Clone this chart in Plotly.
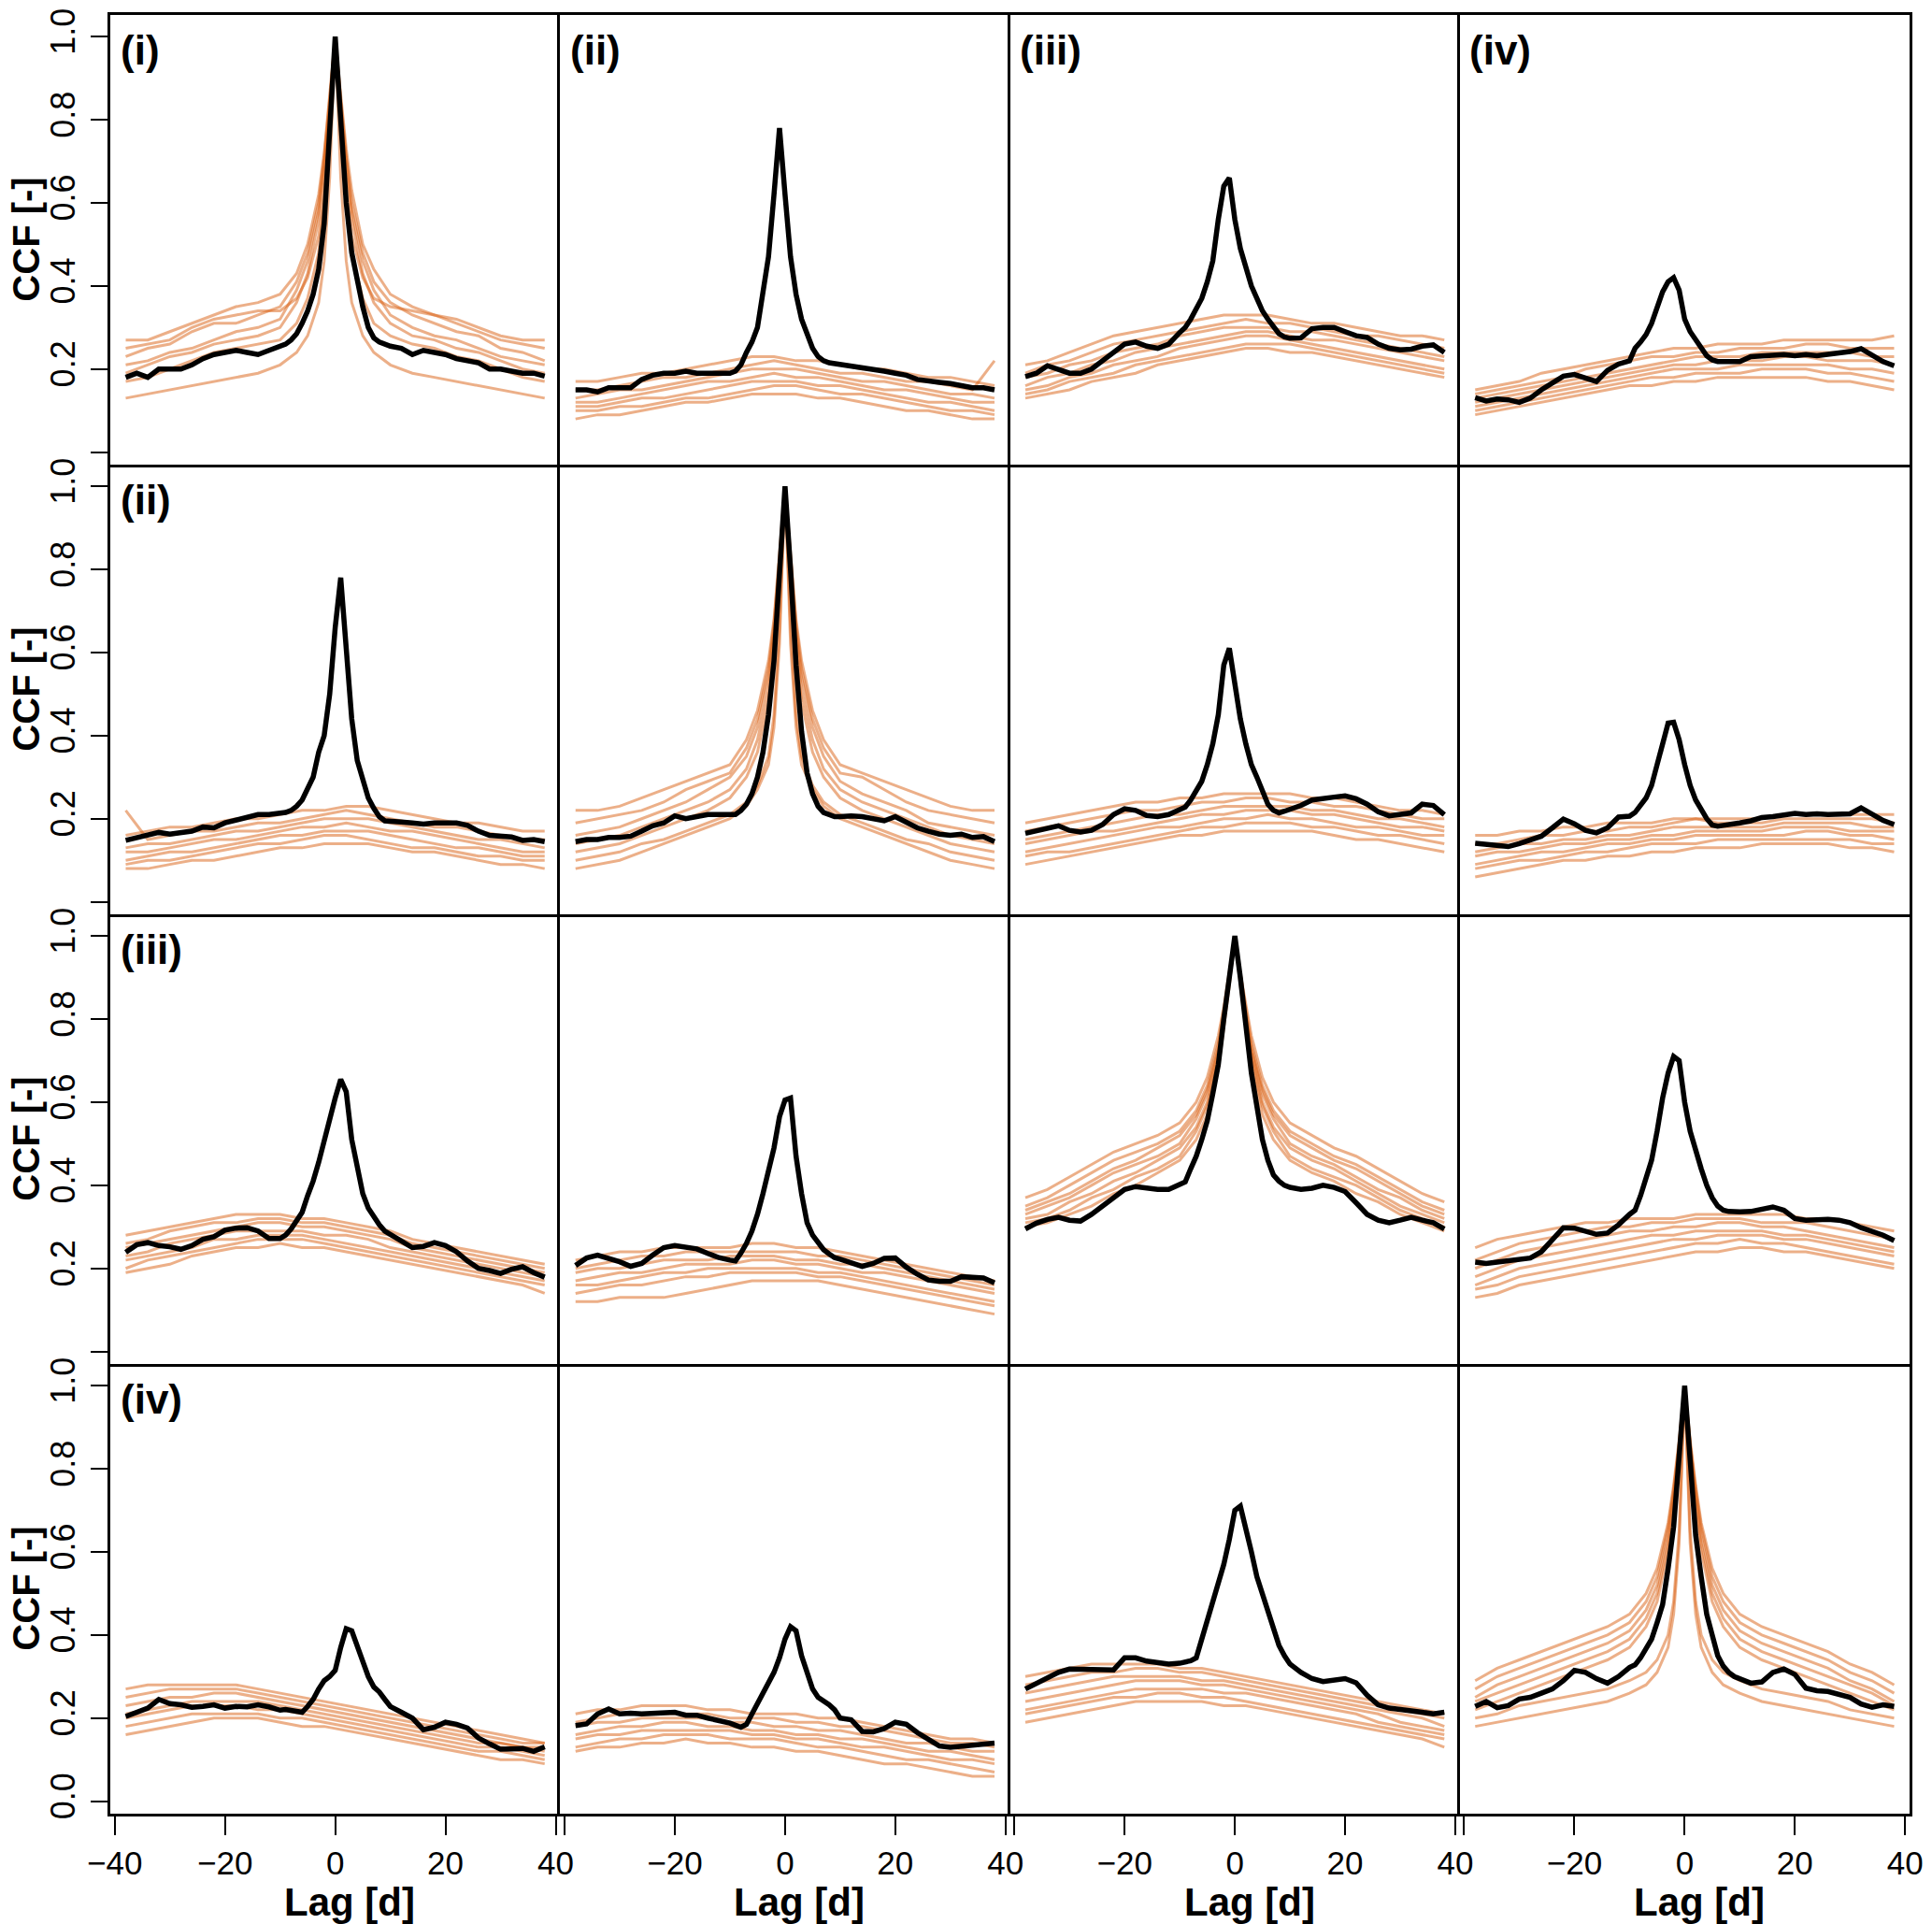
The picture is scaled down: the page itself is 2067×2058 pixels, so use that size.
import plotly.graph_objects as go
from plotly.subplots import make_subplots

# lags (days)
LAG_BLACK = [-38, -36, -34, -32, -30, -28, -26, -24, -22, -20, -18, -16, -14, -12,
             -10, -9, -8, -7, -6, -5, -4, -3, -2, -1, 0, 1, 2, 3, 4, 5, 6, 7, 8, 9, 10,
             12, 14, 16, 18, 20, 22, 24, 26, 28, 30, 32, 34, 36, 38]
LAG_PEAK = [-38, -34, -30, -26, -22, -18, -14, -10, -7, -5, -3, -2, -1, 0,
            1, 2, 3, 5, 7, 10, 14, 18, 22, 26, 30, 34, 38]
LAG_COARSE = [-38, -34, -30, -26, -22, -18, -14, -10, -6, -2,
              2, 6, 10, 14, 18, 22, 26, 30, 34, 38]

ROW_LABELS = ["(i)", "(ii)", "(iii)", "(iv)"]
COL_LABELS = ["(i)", "(ii)", "(iii)", "(iv)"]

# observed CCF (black), row r / column c
B11 = [0.18, 0.19, 0.18, 0.20, 0.20, 0.20, 0.21, 0.225, 0.235, 0.24, 0.245, 0.24, 0.235, 0.245,
       0.255, 0.26, 0.27, 0.285, 0.31, 0.34, 0.38, 0.44, 0.55, 0.78, 1.0, 0.80, 0.60, 0.48, 0.41, 0.35, 0.30, 0.275, 0.265, 0.26, 0.255,
       0.25, 0.235, 0.245, 0.24, 0.235, 0.225, 0.22, 0.215, 0.20, 0.20, 0.195, 0.19, 0.19, 0.183]
B12 = [0.15, 0.15, 0.145, 0.155, 0.155, 0.155, 0.175, 0.185, 0.19, 0.19, 0.195, 0.19, 0.19, 0.19,
       0.19, 0.195, 0.21, 0.24, 0.265, 0.30, 0.38, 0.47, 0.62, 0.78, 0.62, 0.47, 0.38, 0.32, 0.285, 0.25, 0.23, 0.22, 0.215, 0.213, 0.212,
       0.21, 0.205, 0.20, 0.195, 0.19, 0.185, 0.175, 0.17, 0.168, 0.165, 0.16, 0.155, 0.155, 0.15]
B13 = [0.182, 0.19, 0.208, 0.198, 0.19, 0.19, 0.20, 0.22, 0.24, 0.26, 0.265, 0.255, 0.25, 0.26,
       0.288, 0.30, 0.32, 0.345, 0.37, 0.41, 0.46, 0.56, 0.64, 0.66, 0.56, 0.49, 0.44, 0.40, 0.37, 0.34, 0.32, 0.30, 0.285, 0.277, 0.274,
       0.275, 0.297, 0.30, 0.30, 0.29, 0.28, 0.276, 0.26, 0.25, 0.246, 0.248, 0.255, 0.258, 0.24]
B14 = [0.131, 0.123, 0.128, 0.126, 0.12, 0.13, 0.15, 0.168, 0.183, 0.187, 0.178, 0.17, 0.197, 0.212,
       0.22, 0.25, 0.265, 0.283, 0.31, 0.35, 0.386, 0.41, 0.42, 0.39, 0.32, 0.29, 0.27, 0.25, 0.232, 0.222, 0.218, 0.218, 0.219, 0.218, 0.218,
       0.23, 0.232, 0.234, 0.235, 0.232, 0.235, 0.232, 0.235, 0.24, 0.242, 0.249, 0.232, 0.218, 0.208]
B21 = [0.148, 0.155, 0.163, 0.167, 0.163, 0.167, 0.17, 0.18, 0.178, 0.19, 0.197, 0.203, 0.21, 0.21,
       0.212, 0.215, 0.22, 0.23, 0.245, 0.27, 0.30, 0.36, 0.40, 0.50, 0.66, 0.78, 0.60, 0.44, 0.34, 0.29, 0.25, 0.225, 0.205, 0.195, 0.193,
       0.192, 0.19, 0.187, 0.19, 0.19, 0.19, 0.184, 0.17, 0.16, 0.158, 0.156, 0.148, 0.15, 0.145]
B22 = [0.145, 0.15, 0.15, 0.155, 0.155, 0.158, 0.17, 0.183, 0.19, 0.207, 0.20, 0.205, 0.21, 0.21,
       0.21, 0.21, 0.22, 0.235, 0.26, 0.30, 0.36, 0.45, 0.58, 0.80, 1.0, 0.80, 0.57, 0.41, 0.31, 0.26, 0.23, 0.215, 0.21, 0.205, 0.205,
       0.207, 0.205, 0.20, 0.195, 0.205, 0.19, 0.178, 0.17, 0.163, 0.16, 0.163, 0.155, 0.157, 0.145]
B23 = [0.165, 0.172, 0.179, 0.183, 0.172, 0.168, 0.172, 0.186, 0.21, 0.224, 0.22, 0.208, 0.205, 0.21,
       0.222, 0.228, 0.245, 0.268, 0.29, 0.33, 0.38, 0.45, 0.57, 0.61, 0.53, 0.44, 0.38, 0.33, 0.30, 0.265, 0.235, 0.22, 0.214, 0.218, 0.222,
       0.232, 0.245, 0.25, 0.252, 0.255, 0.248, 0.235, 0.217, 0.207, 0.21, 0.214, 0.235, 0.232, 0.21]
B24 = [0.141, 0.138, 0.135, 0.133, 0.14, 0.148, 0.158, 0.178, 0.199, 0.188, 0.172, 0.166, 0.178, 0.204,
       0.206, 0.215, 0.235, 0.25, 0.28, 0.33, 0.39, 0.43, 0.432, 0.39, 0.33, 0.28, 0.245, 0.22, 0.20, 0.185, 0.182, 0.184, 0.185, 0.187, 0.19,
       0.195, 0.203, 0.205, 0.21, 0.213, 0.21, 0.212, 0.21, 0.212, 0.212, 0.226, 0.21, 0.196, 0.186]
B31 = [0.239, 0.257, 0.262, 0.255, 0.252, 0.246, 0.255, 0.27, 0.276, 0.292, 0.297, 0.298, 0.29, 0.272,
       0.272, 0.28, 0.295, 0.315, 0.335, 0.375, 0.41, 0.455, 0.51, 0.555, 0.61, 0.655, 0.625, 0.51, 0.44, 0.38, 0.345, 0.323, 0.305, 0.29, 0.282,
       0.265, 0.25, 0.253, 0.262, 0.255, 0.24, 0.218, 0.20, 0.195, 0.188, 0.198, 0.204, 0.19, 0.179]
B32 = [0.207, 0.225, 0.232, 0.225, 0.216, 0.205, 0.212, 0.232, 0.25, 0.255, 0.252, 0.247, 0.236, 0.226,
       0.22, 0.218, 0.237, 0.26, 0.29, 0.33, 0.38, 0.43, 0.49, 0.565, 0.605, 0.61, 0.47, 0.38, 0.31, 0.28, 0.26, 0.245, 0.235, 0.226, 0.222,
       0.215, 0.205, 0.212, 0.224, 0.225, 0.203, 0.186, 0.172, 0.169, 0.169, 0.18, 0.18, 0.177, 0.165]
B33 = [0.295, 0.309, 0.318, 0.323, 0.316, 0.314, 0.33, 0.35, 0.37, 0.39, 0.397, 0.393, 0.39, 0.39,
       0.40, 0.408, 0.44, 0.47, 0.51, 0.555, 0.62, 0.69, 0.80, 0.90, 1.0, 0.90, 0.78, 0.67, 0.59, 0.51, 0.46, 0.425, 0.41, 0.40, 0.395,
       0.39, 0.393, 0.40, 0.395, 0.385, 0.358, 0.33, 0.316, 0.31, 0.316, 0.323, 0.316, 0.31, 0.295]
B34 = [0.215, 0.212, 0.215, 0.218, 0.221, 0.225, 0.24, 0.27, 0.298, 0.297, 0.288, 0.282, 0.285, 0.305,
       0.33, 0.34, 0.375, 0.42, 0.46, 0.53, 0.61, 0.67, 0.71, 0.70, 0.60, 0.53, 0.48, 0.44, 0.40, 0.37, 0.35, 0.34, 0.337, 0.336, 0.336,
       0.337, 0.342, 0.348, 0.34, 0.32, 0.316, 0.318, 0.318, 0.316, 0.31, 0.298, 0.29, 0.28, 0.267]
B41 = [0.204, 0.214, 0.224, 0.245, 0.235, 0.232, 0.226, 0.228, 0.232, 0.224, 0.228, 0.227, 0.232, 0.227,
       0.219, 0.221, 0.219, 0.217, 0.214, 0.228, 0.245, 0.27, 0.29, 0.30, 0.315, 0.37, 0.415, 0.41, 0.375, 0.34, 0.30, 0.275, 0.263, 0.245, 0.228,
       0.214, 0.20, 0.172, 0.178, 0.19, 0.185, 0.176, 0.152, 0.138, 0.125, 0.126, 0.127, 0.12, 0.131]
B42 = [0.182, 0.186, 0.21, 0.222, 0.21, 0.212, 0.21, 0.212, 0.214, 0.214, 0.207, 0.207, 0.20, 0.195,
       0.188, 0.183, 0.178, 0.185, 0.21, 0.232, 0.255, 0.28, 0.31, 0.345, 0.39, 0.42, 0.41, 0.35, 0.305, 0.27, 0.25, 0.242, 0.232, 0.22, 0.20,
       0.196, 0.168, 0.167, 0.175, 0.19, 0.185, 0.165, 0.148, 0.133, 0.13, 0.132, 0.134, 0.137, 0.14]
B43 = [0.27, 0.284, 0.298, 0.31, 0.318, 0.317, 0.318, 0.315, 0.316, 0.345, 0.345, 0.337, 0.333, 0.33,
       0.332, 0.335, 0.338, 0.345, 0.39, 0.43, 0.475, 0.53, 0.57, 0.63, 0.70, 0.71, 0.66, 0.60, 0.54, 0.50, 0.46, 0.415, 0.375, 0.35, 0.33,
       0.31, 0.295, 0.288, 0.29, 0.295, 0.285, 0.255, 0.232, 0.224, 0.221, 0.219, 0.214, 0.21, 0.214]
B44 = [0.228, 0.24, 0.225, 0.23, 0.246, 0.25, 0.26, 0.27, 0.29, 0.315, 0.31, 0.295, 0.284, 0.30,
       0.322, 0.328, 0.345, 0.365, 0.39, 0.43, 0.473, 0.56, 0.66, 0.83, 1.0, 0.82, 0.64, 0.54, 0.45, 0.40, 0.35, 0.325, 0.31, 0.30, 0.295,
       0.284, 0.287, 0.31, 0.318, 0.305, 0.272, 0.266, 0.264, 0.258, 0.25, 0.234, 0.226, 0.232, 0.228]

# simulated CCFs (orange); diagonal panels on LAG_PEAK, others on LAG_COARSE
O11 = [
    [.27, .27, .29, .31, .33, .35, .36, .38, .43, .50, .62, .72, .86, 1, .86, .73, .63, .50, .44, .38, .35, .33, .32, .30, .28, .27, .27],
    [.23, .25, .26, .29, .31, .31, .33, .35, .41, .48, .60, .71, .85, 1, .85, .71, .60, .48, .41, .36, .33, .31, .29, .28, .25, .24, .22],
    [.21, .22, .24, .25, .27, .29, .30, .32, .39, .46, .58, .69, .84, 1, .84, .70, .58, .46, .39, .33, .30, .28, .27, .25, .23, .22, .21],
    [.19, .21, .23, .24, .26, .27, .28, .30, .36, .43, .56, .67, .83, 1, .83, .67, .56, .43, .36, .31, .28, .27, .25, .24, .22, .20, .19],
    [.25, .26, .27, .30, .32, .33, .34, .34, .37, .42, .52, .62, .78, 1, .78, .62, .52, .42, .37, .35, .34, .33, .31, .29, .27, .26, .25],
    [.17, .18, .20, .22, .24, .25, .26, .27, .31, .37, .48, .60, .78, 1, .78, .60, .48, .37, .31, .28, .26, .25, .23, .22, .20, .18, .17],
    [.13, .14, .15, .16, .17, .18, .19, .21, .24, .28, .36, .46, .66, 1, .66, .46, .36, .28, .24, .21, .19, .18, .17, .16, .15, .14, .13],
]
O12 = [
    [.17, .17, .18, .19, .19, .20, .21, .22, .23, .23, .22, .22, .21, .20, .20, .19, .18, .18, .17, .16],
    [.15, .15, .16, .17, .18, .18, .19, .20, .21, .22, .21, .20, .19, .19, .18, .17, .17, .16, .15, .22],
    [.13, .14, .15, .15, .16, .17, .18, .19, .20, .20, .20, .19, .18, .17, .17, .16, .15, .14, .14, .13],
    [.12, .12, .13, .14, .15, .16, .17, .17, .18, .19, .18, .18, .17, .16, .15, .15, .14, .13, .12, .12],
    [.11, .11, .12, .13, .13, .14, .15, .16, .17, .17, .17, .16, .16, .15, .14, .13, .12, .12, .11, .10],
    [.10, .10, .11, .11, .12, .13, .13, .14, .15, .16, .16, .15, .14, .14, .13, .12, .11, .10, .10, .09],
    [.08, .09, .09, .10, .11, .12, .12, .13, .14, .14, .14, .13, .13, .12, .11, .10, .10, .09, .08, .08],
]
O13 = [
    [.21, .22, .24, .26, .28, .29, .30, .31, .32, .33, .33, .33, .32, .31, .31, .30, .29, .28, .28, .27],
    [.19, .21, .22, .24, .26, .27, .28, .29, .30, .31, .32, .31, .31, .30, .29, .28, .28, .27, .26, .25],
    [.18, .19, .21, .22, .24, .25, .26, .28, .29, .30, .30, .30, .29, .29, .28, .27, .26, .25, .24, .23],
    [.16, .18, .19, .21, .22, .24, .25, .26, .27, .28, .29, .29, .28, .27, .27, .26, .25, .24, .23, .22],
    [.15, .16, .18, .19, .21, .22, .23, .25, .26, .27, .28, .28, .27, .26, .25, .24, .23, .22, .21, .20],
    [.14, .15, .17, .18, .19, .21, .22, .23, .24, .25, .26, .26, .26, .25, .24, .23, .22, .21, .20, .19],
    [.13, .14, .15, .17, .18, .19, .21, .22, .23, .24, .25, .25, .24, .24, .23, .22, .21, .20, .19, .18],
]
O14 = [
    [.15, .16, .17, .19, .20, .21, .22, .23, .24, .25, .25, .26, .26, .26, .27, .27, .27, .27, .27, .28],
    [.14, .15, .16, .17, .18, .20, .21, .22, .23, .23, .24, .24, .25, .25, .25, .26, .26, .25, .25, .25],
    [.13, .14, .15, .16, .17, .18, .19, .20, .21, .22, .23, .23, .23, .24, .24, .24, .24, .24, .23, .23],
    [.12, .13, .14, .15, .16, .17, .18, .19, .20, .21, .21, .22, .22, .22, .23, .23, .22, .22, .22, .21],
    [.11, .12, .13, .14, .15, .16, .17, .18, .19, .20, .20, .20, .21, .21, .21, .21, .21, .20, .20, .19],
    [.10, .11, .12, .13, .14, .15, .16, .17, .18, .18, .19, .19, .19, .20, .20, .20, .19, .19, .18, .17],
    [.09, .10, .11, .12, .13, .14, .15, .16, .16, .17, .17, .18, .18, .18, .18, .18, .17, .17, .16, .15],
]
O21 = [
    [.16, .17, .18, .18, .19, .20, .20, .21, .22, .22, .23, .23, .22, .21, .20, .19, .19, .18, .17, .17],
    [.22, .15, .16, .17, .17, .18, .19, .19, .20, .21, .22, .21, .20, .19, .18, .18, .17, .16, .15, .15],
    [.13, .14, .14, .15, .16, .17, .17, .18, .19, .20, .20, .20, .19, .18, .17, .16, .15, .15, .14, .13],
    [.12, .12, .13, .14, .15, .15, .16, .17, .18, .18, .19, .18, .17, .17, .16, .15, .14, .13, .12, .12],
    [.10, .11, .12, .12, .13, .14, .15, .16, .16, .17, .17, .17, .16, .15, .14, .13, .13, .12, .11, .11],
    [.09, .10, .10, .11, .12, .13, .14, .14, .15, .16, .16, .15, .14, .13, .13, .12, .11, .11, .10, .10],
    [.08, .08, .09, .10, .10, .11, .12, .13, .13, .14, .14, .14, .13, .12, .12, .11, .10, .09, .09, .08],
]
O22 = [
    [.22, .22, .23, .25, .27, .29, .31, .33, .39, .46, .58, .68, .84, 1, .84, .68, .58, .46, .39, .33, .31, .29, .27, .25, .23, .22, .22],
    [.19, .20, .21, .22, .24, .27, .29, .31, .37, .44, .56, .67, .83, 1, .83, .67, .56, .44, .37, .31, .30, .27, .24, .22, .21, .20, .19],
    [.16, .17, .18, .20, .22, .24, .27, .30, .35, .42, .54, .65, .82, 1, .82, .65, .54, .42, .35, .29, .26, .24, .22, .19, .18, .17, .16],
    [.14, .15, .16, .18, .20, .22, .24, .27, .32, .39, .51, .63, .81, 1, .81, .63, .51, .39, .32, .27, .24, .22, .20, .18, .16, .15, .14],
    [.12, .13, .14, .16, .18, .20, .22, .25, .30, .36, .48, .60, .79, 1, .79, .60, .48, .36, .30, .25, .22, .20, .18, .16, .14, .13, .12],
    [.10, .11, .12, .14, .15, .17, .19, .21, .24, .28, .35, .45, .66, 1, .66, .45, .35, .28, .24, .21, .19, .17, .15, .14, .12, .11, .10],
    [.08, .09, .10, .12, .14, .16, .18, .20, .23, .27, .33, .42, .62, 1, .62, .42, .33, .27, .23, .20, .18, .16, .14, .12, .10, .09, .08],
]
O23 = [
    [.19, .20, .21, .22, .23, .24, .24, .25, .25, .26, .26, .26, .26, .25, .25, .24, .23, .22, .22, .21],
    [.17, .18, .19, .20, .21, .22, .22, .23, .24, .24, .25, .25, .24, .24, .23, .23, .22, .21, .20, .20],
    [.15, .16, .17, .18, .19, .20, .21, .21, .22, .23, .23, .23, .23, .22, .22, .21, .20, .20, .19, .18],
    [.14, .15, .16, .17, .17, .18, .19, .20, .21, .21, .22, .22, .22, .21, .21, .20, .19, .18, .18, .17],
    [.12, .13, .14, .15, .16, .17, .18, .18, .19, .20, .20, .21, .20, .20, .19, .18, .18, .17, .16, .16],
    [.11, .12, .12, .13, .14, .15, .16, .17, .18, .18, .19, .19, .19, .18, .18, .17, .16, .16, .15, .14],
    [.09, .10, .11, .12, .13, .14, .15, .16, .16, .17, .17, .17, .17, .17, .16, .15, .15, .14, .13, .12],
]
O24 = [
    [.16, .16, .17, .17, .18, .18, .19, .19, .19, .20, .20, .20, .20, .20, .21, .21, .21, .21, .21, .21],
    [.14, .14, .15, .16, .16, .17, .17, .18, .18, .19, .20, .19, .19, .19, .20, .20, .20, .20, .20, .19],
    [.12, .13, .14, .14, .15, .15, .16, .16, .17, .18, .18, .18, .18, .18, .19, .19, .19, .19, .18, .18],
    [.11, .12, .12, .13, .14, .14, .15, .15, .16, .16, .17, .17, .17, .17, .18, .18, .18, .17, .17, .17],
    [.09, .10, .11, .12, .12, .13, .14, .14, .15, .15, .16, .16, .16, .16, .16, .17, .17, .16, .16, .15],
    [.08, .09, .10, .10, .11, .12, .12, .13, .14, .14, .14, .15, .15, .15, .15, .15, .15, .15, .14, .14],
    [.06, .07, .08, .09, .10, .10, .11, .11, .12, .12, .13, .13, .13, .14, .14, .14, .14, .13, .13, .12],
]
O31 = [
    [.28, .29, .30, .31, .32, .33, .33, .33, .32, .32, .31, .30, .29, .27, .26, .25, .24, .23, .22, .21],
    [.26, .27, .29, .30, .31, .31, .32, .32, .31, .31, .30, .29, .28, .26, .25, .24, .23, .22, .21, .20],
    [.25, .26, .27, .28, .29, .30, .31, .31, .30, .30, .29, .28, .27, .25, .24, .23, .22, .21, .20, .19],
    [.23, .24, .26, .27, .28, .29, .29, .29, .29, .28, .28, .27, .25, .24, .23, .22, .21, .20, .19, .18],
    [.22, .23, .24, .25, .27, .27, .28, .28, .28, .27, .26, .25, .24, .23, .22, .21, .20, .19, .18, .17],
    [.20, .22, .23, .24, .25, .26, .27, .27, .27, .26, .25, .24, .23, .22, .21, .20, .19, .18, .17, .16],
    [.19, .20, .21, .23, .24, .25, .25, .26, .25, .25, .24, .23, .22, .21, .20, .19, .18, .17, .16, .14],
]
O32 = [
    [.22, .23, .24, .24, .25, .25, .25, .25, .26, .26, .25, .25, .24, .23, .22, .21, .20, .19, .18, .17],
    [.20, .21, .22, .23, .23, .24, .24, .24, .24, .24, .24, .23, .23, .22, .21, .20, .19, .18, .17, .16],
    [.19, .20, .20, .21, .22, .22, .22, .23, .23, .23, .22, .22, .21, .21, .20, .19, .18, .17, .16, .15],
    [.17, .18, .19, .19, .20, .21, .21, .21, .22, .22, .21, .21, .20, .19, .19, .18, .17, .16, .15, .14],
    [.16, .16, .17, .18, .19, .19, .20, .20, .20, .20, .20, .19, .19, .18, .17, .16, .15, .14, .13, .12],
    [.14, .15, .16, .16, .17, .18, .18, .19, .19, .19, .19, .18, .18, .17, .16, .15, .14, .13, .12, .11],
    [.12, .12, .13, .13, .13, .14, .15, .16, .17, .17, .17, .17, .16, .15, .14, .13, .12, .11, .10, .09],
]
O33 = [
    [.37, .39, .42, .45, .48, .50, .52, .55, .60, .66, .76, .83, .91, 1, .91, .83, .76, .66, .60, .55, .52, .49, .47, .44, .41, .38, .36],
    [.35, .37, .40, .43, .46, .48, .50, .53, .58, .64, .74, .82, .91, 1, .91, .82, .74, .64, .58, .53, .50, .47, .45, .42, .39, .36, .34],
    [.34, .36, .38, .41, .44, .46, .49, .52, .57, .63, .73, .81, .90, 1, .90, .81, .73, .63, .57, .52, .49, .46, .44, .41, .38, .35, .33],
    [.33, .35, .37, .40, .43, .45, .47, .50, .56, .62, .72, .80, .90, 1, .90, .80, .72, .62, .56, .50, .47, .45, .42, .39, .37, .34, .32],
    [.32, .33, .36, .38, .41, .43, .46, .49, .54, .60, .71, .80, .89, 1, .89, .80, .71, .60, .54, .49, .46, .44, .41, .38, .35, .33, .31],
    [.31, .32, .34, .37, .39, .42, .44, .47, .53, .59, .70, .79, .89, 1, .89, .79, .70, .59, .53, .47, .44, .42, .40, .37, .34, .32, .30],
    [.30, .31, .33, .35, .38, .40, .43, .46, .51, .57, .68, .78, .88, 1, .88, .78, .68, .57, .51, .46, .43, .41, .38, .36, .33, .31, .29],
]
O34 = [
    [.25, .27, .28, .29, .30, .31, .31, .32, .32, .32, .33, .33, .33, .33, .33, .32, .32, .31, .30, .29],
    [.22, .24, .26, .27, .28, .29, .30, .30, .31, .31, .32, .32, .32, .31, .31, .31, .30, .29, .28, .27],
    [.20, .22, .24, .25, .26, .27, .28, .29, .29, .30, .30, .31, .31, .30, .30, .29, .28, .27, .26, .25],
    [.18, .20, .22, .23, .24, .25, .26, .27, .28, .28, .29, .29, .29, .29, .28, .28, .27, .26, .25, .24],
    [.16, .18, .20, .21, .22, .23, .24, .25, .26, .27, .27, .28, .28, .28, .27, .27, .26, .25, .24, .23],
    [.15, .16, .18, .19, .20, .21, .22, .23, .24, .25, .26, .26, .27, .26, .26, .25, .24, .23, .22, .21],
    [.13, .14, .16, .17, .18, .19, .20, .21, .22, .23, .24, .24, .25, .25, .24, .24, .23, .22, .21, .20],
]
O41 = [
    [.27, .28, .28, .28, .28, .28, .27, .26, .25, .24, .23, .22, .21, .20, .19, .18, .17, .16, .15, .14],
    [.25, .26, .27, .27, .27, .27, .26, .25, .24, .23, .22, .21, .20, .19, .18, .17, .16, .15, .14, .14],
    [.23, .24, .25, .25, .26, .26, .25, .24, .23, .22, .21, .20, .19, .18, .17, .16, .15, .14, .13, .13],
    [.21, .22, .23, .24, .24, .24, .24, .23, .22, .21, .20, .19, .18, .17, .16, .15, .14, .14, .13, .12],
    [.20, .21, .22, .23, .23, .23, .22, .22, .21, .20, .19, .18, .17, .16, .15, .14, .13, .13, .12, .11],
    [.18, .19, .20, .21, .21, .21, .21, .20, .20, .19, .18, .17, .16, .15, .14, .13, .12, .12, .11, .10],
    [.16, .17, .18, .19, .20, .20, .20, .19, .18, .18, .17, .16, .15, .14, .13, .12, .11, .10, .10, .09],
]
O42 = [
    [.21, .22, .22, .23, .23, .23, .22, .22, .21, .21, .21, .20, .20, .19, .18, .17, .16, .15, .15, .14],
    [.19, .20, .21, .21, .21, .21, .21, .20, .20, .20, .19, .19, .18, .18, .17, .16, .15, .14, .14, .13],
    [.18, .19, .19, .20, .20, .20, .20, .19, .19, .18, .18, .17, .17, .16, .15, .14, .14, .13, .12, .12],
    [.16, .17, .18, .18, .19, .19, .18, .18, .17, .17, .16, .16, .15, .15, .14, .13, .12, .12, .11, .10],
    [.15, .16, .16, .17, .17, .17, .17, .17, .16, .16, .15, .15, .14, .13, .13, .12, .11, .10, .10, .09],
    [.13, .14, .15, .15, .16, .16, .16, .15, .15, .15, .14, .13, .13, .12, .11, .10, .10, .09, .08, .07],
    [.12, .13, .13, .14, .14, .15, .14, .14, .13, .13, .12, .12, .11, .10, .09, .09, .08, .07, .06, .06],
]
O43 = [
    [.30, .31, .32, .33, .33, .33, .33, .32, .32, .31, .30, .29, .28, .27, .26, .25, .24, .23, .22, .21],
    [.28, .29, .30, .31, .31, .32, .32, .31, .31, .30, .29, .28, .27, .26, .25, .24, .23, .22, .21, .20],
    [.26, .27, .28, .29, .30, .30, .30, .30, .29, .29, .28, .27, .26, .25, .24, .23, .22, .21, .20, .18],
    [.24, .25, .26, .27, .28, .29, .29, .29, .28, .28, .27, .26, .25, .24, .23, .22, .21, .19, .18, .17],
    [.22, .23, .24, .25, .26, .27, .27, .27, .27, .26, .26, .25, .24, .23, .22, .21, .19, .18, .17, .16],
    [.21, .22, .23, .24, .25, .25, .26, .26, .25, .25, .24, .23, .22, .21, .20, .19, .18, .17, .16, .15],
    [.19, .20, .21, .22, .23, .24, .24, .24, .24, .23, .23, .22, .21, .20, .19, .18, .17, .16, .15, .13],
]
O44 = [
    [.29, .32, .34, .36, .38, .40, .42, .45, .50, .56, .67, .76, .87, 1, .87, .76, .67, .56, .50, .45, .42, .40, .38, .36, .33, .31, .28],
    [.27, .30, .32, .34, .36, .38, .40, .43, .48, .54, .66, .75, .86, 1, .86, .75, .66, .54, .48, .43, .40, .38, .36, .34, .31, .29, .26],
    [.25, .28, .30, .32, .34, .36, .38, .41, .46, .52, .64, .74, .86, 1, .86, .74, .64, .52, .46, .41, .38, .36, .34, .32, .29, .27, .24],
    [.24, .26, .28, .30, .32, .34, .36, .39, .44, .50, .62, .72, .85, 1, .85, .72, .62, .50, .44, .39, .36, .34, .32, .30, .28, .26, .23],
    [.22, .24, .26, .28, .30, .32, .34, .37, .42, .48, .60, .70, .84, 1, .84, .70, .60, .48, .42, .37, .34, .32, .30, .28, .26, .24, .22],
    [.20, .21, .23, .24, .25, .26, .27, .29, .31, .34, .40, .48, .65, 1, .65, .48, .40, .34, .31, .29, .27, .26, .25, .24, .22, .21, .20],
    [.18, .19, .20, .21, .22, .23, .24, .26, .28, .31, .37, .45, .62, 1, .62, .45, .37, .31, .28, .26, .24, .23, .22, .21, .20, .19, .18],
]

BLACK = {(1, 1): B11, (1, 2): B12, (1, 3): B13, (1, 4): B14,
         (2, 1): B21, (2, 2): B22, (2, 3): B23, (2, 4): B24,
         (3, 1): B31, (3, 2): B32, (3, 3): B33, (3, 4): B34,
         (4, 1): B41, (4, 2): B42, (4, 3): B43, (4, 4): B44}
ORANGE = {(1, 1): O11, (1, 2): O12, (1, 3): O13, (1, 4): O14,
          (2, 1): O21, (2, 2): O22, (2, 3): O23, (2, 4): O24,
          (3, 1): O31, (3, 2): O32, (3, 3): O33, (3, 4): O34,
          (4, 1): O41, (4, 2): O42, (4, 3): O43, (4, 4): O44}

W, H = 2067, 2058
M_L, M_R, M_T, M_B = 118, 19, 9, 118
FONT = "Liberation Sans, Arial, Helvetica, sans-serif"
ORANGE_COL = "rgba(218,96,18,0.5)"
FRAME_W = 2.7


def axref(letter, idx):
    # plotly names the first axis "x"/"y", the rest "x2", "y3", ...
    return letter if idx == 1 else "%s%d" % (letter, idx)


fig = make_subplots(rows=4, cols=4, horizontal_spacing=0, vertical_spacing=0)

for (r, c), blk in BLACK.items():
    lags_o = LAG_PEAK if r == c else LAG_COARSE
    for line in ORANGE[(r, c)]:
        assert len(line) == len(lags_o), (r, c)
        fig.add_trace(go.Scatter(x=lags_o, y=line, mode="lines",
                                 line=dict(color=ORANGE_COL, width=3),
                                 hoverinfo="skip", showlegend=False), row=r, col=c)
    assert len(blk) == len(LAG_BLACK), (r, c)
    fig.add_trace(go.Scatter(x=LAG_BLACK, y=blk, mode="lines",
                             line=dict(color="black", width=5.5),
                             showlegend=False), row=r, col=c)

ytick_vals = [0, 0.2, 0.4, 0.6, 0.8, 1.0]
xtick_vals = [-40, -20, 0, 20, 40]

for r in range(1, 5):
    for c in range(1, 5):
        # one line per panel edge: bottom + left everywhere, top on row 1, right on col 4
        fig.update_xaxes(range=[-40.8, 40.8], showgrid=False, zeroline=False,
                         showline=True, mirror=(r == 1), linecolor="black",
                         linewidth=FRAME_W, row=r, col=c)
        fig.update_yaxes(range=[-0.03, 1.052], showgrid=False, zeroline=False,
                         showline=True, mirror=(c == 4), linecolor="black",
                         linewidth=FRAME_W, row=r, col=c)
        if r == 4:
            xtext = ["\u221240", "\u221220", "0", "20", "40"] if c == 1 else ["", "\u221220", "0", "20", "40"]
            fig.update_xaxes(ticks="outside", ticklen=20, tickwidth=2.2, tickcolor="black",
                             tickvals=xtick_vals, ticktext=xtext, ticklabelstandoff=0,
                             tickfont=dict(family=FONT, size=35, color="black"),
                             row=r, col=c)
        else:
            fig.update_xaxes(showticklabels=False, ticks="", row=r, col=c)
        if c == 1:
            ytext = ["0.0" if r == 4 else "", "0.2", "0.4", "0.6", "0.8", "1.0"]
            fig.update_yaxes(ticks="outside", ticklen=18, tickwidth=2.2, tickcolor="black",
                             tickvals=ytick_vals, ticktext=ytext, tickangle=-90,
                             ticklabelstandoff=3,
                             tickfont=dict(family=FONT, size=36, color="black"),
                             row=r, col=c)
        else:
            fig.update_yaxes(showticklabels=False, ticks="", row=r, col=c)

annotations = []
for r in range(1, 5):
    for c in range(1, 5):
        idx = (r - 1) * 4 + c
        label = None
        if r == 1:
            label = COL_LABELS[c - 1]
        elif c == 1:
            label = ROW_LABELS[r - 1]
        if label:
            annotations.append(dict(text="<b>%s</b>" % label, x=0.018, y=0.978,
                                    xref=axref("x", idx) + " domain",
                                    yref=axref("y", idx) + " domain",
                                    xanchor="left", yanchor="top", showarrow=False,
                                    font=dict(family=FONT, size=44, color="black")))
    idx = (r - 1) * 4 + 1
    annotations.append(dict(text="<b>CCF [-]</b>", x=-0.0472, y=0.5, textangle=-90,
                            xref="paper", yref=axref("y", idx) + " domain",
                            xanchor="center", yanchor="middle", showarrow=False,
                            font=dict(family=FONT, size=40, color="black")))
for c in range(1, 5):
    idx = 12 + c
    annotations.append(dict(text="<b>Lag [d]</b>", x=0.532, y=-0.049,
                            xref=axref("x", idx) + " domain", yref="paper",
                            xanchor="center", yanchor="middle", showarrow=False,
                            font=dict(family=FONT, size=42, color="black")))

fig.update_layout(width=W, height=H, margin=dict(l=M_L, r=M_R, t=M_T, b=M_B),
                  paper_bgcolor="white", plot_bgcolor="white",
                  annotations=annotations, showlegend=False,
                  font=dict(family=FONT, color="black"))

fig.write_html("out.html", config={"displayModeBar": False},
               post_script="document.body.style.margin='0';")
